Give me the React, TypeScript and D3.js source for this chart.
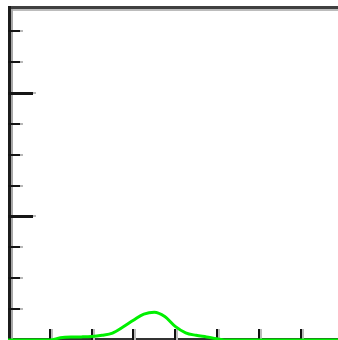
import React from "react";
import * as d3 from "d3";

const xValues = [0, 1.0, 1.25, 1.5, 1.75, 2.0, 2.25, 2.5, 2.75, 3.0, 3.25, 3.5, 3.75, 4.0, 4.25, 4.5, 4.75, 5.0, 5.25, 8];
const yValues = [0, 0, 0.018, 0.024, 0.025, 0.028, 0.038, 0.056, 0.105, 0.16, 0.21, 0.225, 0.19, 0.11, 0.058, 0.038, 0.025, 0.01, 0, 0];
const xTicks = [1, 2, 3, 4, 5, 6, 7];
const yTicks = [0.25, 0.5, 0.75, 1, 1.25, 1.5, 1.75, 2, 2.25, 2.5];

const W = 338;
const H = 340;

export default function App() {
  const x = d3.scaleLinear().domain([0, 8]).range([8, 8 + 41.8 * 8]);
  const y = d3.scaleLinear().domain([0, 2.75]).range([340, 340 - 123.6 * 2.75]);
  const data = xValues.map((v, i) => [v, yValues[i]] as [number, number]);
  const line = d3
    .line<[number, number]>()
    .x((d) => x(d[0]))
    .y((d) => y(d[1]))
    .curve(d3.curveMonotoneX);
  const topY = 6;
  return (
    <svg
      width={W}
      height={H}
      style={{ position: "fixed", left: 0, top: 0, background: "#fff" }}
      shapeRendering="crispEdges"
    >
      <rect x={0} y={0} width={W} height={H} fill="#fff" />
      {/* bottom axis */}
      <rect x={8} y={338} width={W - 8} height={2} fill="#333" />
      {/* top border */}
      <rect x={10} y={topY + 3} width={W - 10} height={2} fill="#bcbcbc" />
      <rect x={8} y={topY} width={W - 8} height={3} fill="#404040" />
      {/* left axis */}
      <rect x={11} y={topY + 3} width={2} height={H - topY} fill="#a8a8a8" />
      <rect x={8} y={topY} width={3} height={H - topY} fill="#1c1c1c" />
      {/* y ticks */}
      {yTicks.map((t) => {
        const major = Math.abs(t - Math.round(t)) < 1e-6;
        const len = major ? 25 : 12;
        const yy = Math.round(y(t));
        return (
          <g key={"y" + t}>
            <rect x={8 + len} y={yy - 1} width={3} height={2} fill="#b8b8b8" />
            <rect x={8} y={yy - 1} width={len} height={major ? 3 : 2} fill="#151515" />
          </g>
        );
      })}
      {/* x ticks */}
      {xTicks.map((t) => {
        const xx = Math.round(x(t));
        return (
          <g key={"x" + t}>
            <rect x={xx - 1} y={329} width={2} height={11} fill="#111" />
            <rect x={xx + 1} y={329} width={2} height={11} fill="#bbb" />
          </g>
        );
      })}
      {/* series */}
      <path
        d={line(data) || ""}
        fill="none"
        stroke="#00f000"
        strokeWidth={3}
        shapeRendering="auto"
      />
    </svg>
  );
}
